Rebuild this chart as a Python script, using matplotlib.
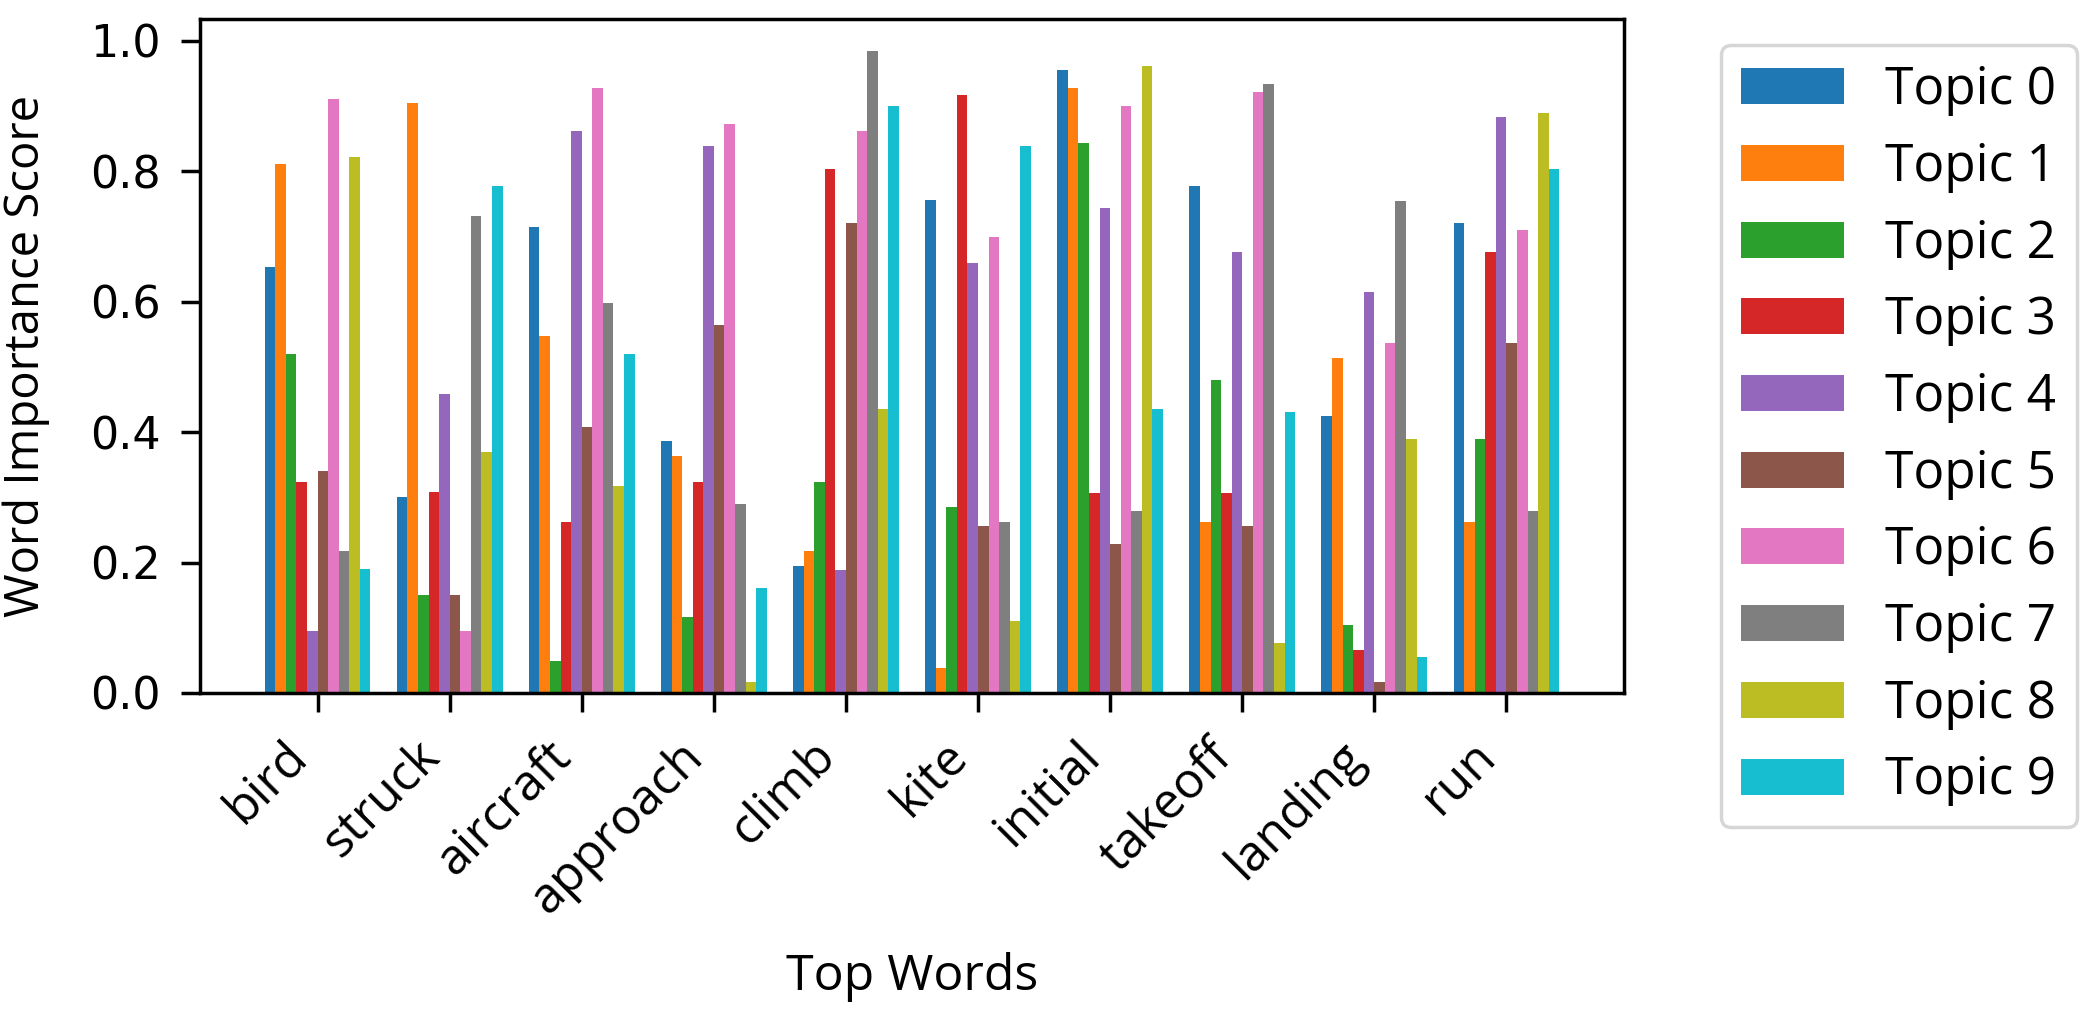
import numpy as np
import matplotlib
matplotlib.use('Agg')
import matplotlib.pyplot as plt

words = ['bird', 'struck', 'aircraft', 'approach', 'climb', 'kite', 'initial', 'takeoff', 'landing', 'run']
topics = ['Topic %d' % i for i in range(10)]

# importance score of each word, one list per topic
topic0 = [0.653, 0.301, 0.715, 0.386, 0.195, 0.755, 0.955, 0.777, 0.424, 0.721]
topic1 = [0.811, 0.905, 0.548, 0.363, 0.217, 0.038, 0.928, 0.262, 0.514, 0.262]
topic2 = [0.520, 0.150, 0.049, 0.116, 0.324, 0.285, 0.843, 0.480, 0.105, 0.390]
topic3 = [0.324, 0.308, 0.262, 0.324, 0.804, 0.917, 0.307, 0.307, 0.066, 0.676]
topic4 = [0.095, 0.458, 0.861, 0.838, 0.189, 0.659, 0.743, 0.676, 0.614, 0.883]
topic5 = [0.340, 0.150, 0.407, 0.564, 0.721, 0.256, 0.228, 0.256, 0.017, 0.537]
topic6 = [0.911, 0.095, 0.928, 0.872, 0.861, 0.699, 0.900, 0.922, 0.537, 0.709]
topic7 = [0.217, 0.731, 0.598, 0.290, 0.984, 0.262, 0.279, 0.933, 0.754, 0.279]
topic8 = [0.821, 0.370, 0.317, 0.017, 0.436, 0.111, 0.961, 0.077, 0.390, 0.889]
topic9 = [0.190, 0.777, 0.520, 0.161, 0.900, 0.838, 0.436, 0.430, 0.055, 0.804]
scores = [topic0, topic1, topic2, topic3, topic4, topic5, topic6, topic7, topic8, topic9]

label_font = 'Open Sans'

fig = plt.figure(figsize=(20.91, 10.19), dpi=100)
ax = fig.add_axes([200 / 2091, 1 - 693 / 1019, 1424 / 2091, 674 / 1019])

x = np.arange(len(words))
width = 0.08
for i, vals in enumerate(scores):
    ax.bar(x + (i - 4.5) * width, vals, width, label=topics[i])

ax.set_xticks(x)
ax.set_xticklabels(words, rotation=45, ha='right', fontsize=36, family=label_font)
ax.tick_params(axis='y', labelsize=32)
ax.tick_params(length=14, width=2.5, pad=14)
for s in ax.spines.values():
    s.set_linewidth(2.5)

ax.set_xlabel('Top Words', fontsize=36, family=label_font)
ax.set_ylabel('Word Importance Score', fontsize=34, family=label_font)
ax.xaxis.set_label_coords(0.5, -0.385)
ax.yaxis.set_label_coords(-0.105, 0.5)

leg = ax.legend(bbox_to_anchor=(1.05, 1), loc='upper left',
                prop={'family': label_font, 'size': 37})
leg.get_frame().set_linewidth(2.5)

fig.savefig('out.png', dpi=100)
